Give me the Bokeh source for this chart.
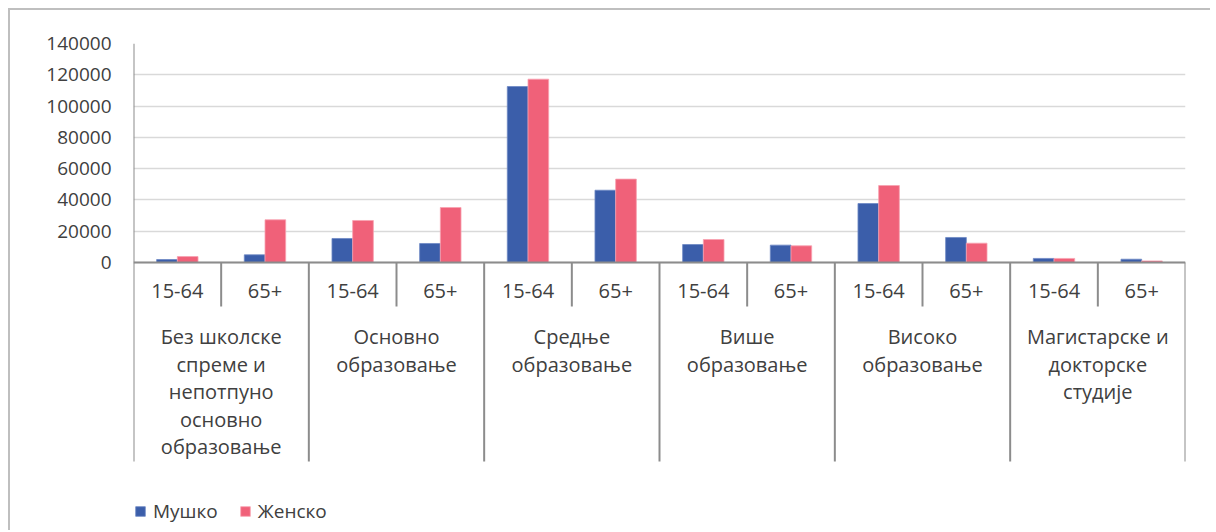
from bokeh.plotting import figure
from bokeh.models import (ColumnDataSource, FixedTicker, BasicTickFormatter,
                          Legend, LegendItem, Range1d)
from bokeh.core.properties import value
from bokeh.embed import file_html
from bokeh.resources import INLINE

# ---------------- data ----------------
groups = [
    "Без школске\nспреме и\nнепотпуно\nосновно\nобразовање",
    "Основно\nобразовање",
    "Средње\nобразовање",
    "Више\nобразовање",
    "Високо\nобразовање",
    "Магистарске и\nдокторске\nстудије",
]
ages = ["15-64", "65+"]
series_names = ["Мушко", "Женско"]
male = [1900, 4900, 15350, 12150, 112500, 46200, 11500, 11100, 37700, 16000, 2600, 2100]
female = [3800, 27300, 26850, 35150, 117200, 53300, 14700, 10650, 49200, 12350, 2600, 1000]
y_ticks = [0, 20000, 40000, 60000, 80000, 100000, 120000, 140000]

# ---------------- style / layout ----------------
FONT = "Open Sans"
TXT = "#404040"
BLUE = "#3B5EAA"
PINK = "#F06179"
AX = "#8c8c8c"
GRID = "#d9d9d9"

W, H = 1202, 522
ML, MR, MT, MB = 123, 27, 33, 2
FRAME_H = H - MT - MB
TOP_PX = 43          # page y of top tick
ZERO_PX = 262        # page y of zero line
YMAX = y_ticks[-1]
PX = YMAX / (ZERO_PX - TOP_PX)
Y0 = YMAX - FRAME_H * PX


def ypage(py):
    return YMAX - (py - TOP_PX) * PX


n_cat = len(groups) * len(ages)
p = figure(width=W, height=H, output_backend="svg", toolbar_location=None,
           x_range=Range1d(0, n_cat), y_range=Range1d(Y0, YMAX),
           x_axis_location=None,
           min_border_left=ML, min_border_right=MR, min_border_top=MT,
           min_border_bottom=MB,
           styles={"border-left": "2px solid #bfbfbf",
                   "border-top": "2px solid #bfbfbf",
                   "margin-left": "8px", "margin-top": "8px"})
p.outline_line_color = None
p.xgrid.visible = False
p.ygrid.ticker = FixedTicker(ticks=y_ticks)
p.ygrid.grid_line_color = GRID
p.ygrid.grid_line_width = 1.5

yax = p.yaxis[0]
yax.ticker = FixedTicker(ticks=y_ticks)
yax.formatter = BasicTickFormatter(use_scientific=False)
yax.axis_line_color = None
yax.major_tick_line_color = None
yax.minor_tick_line_color = None
yax.major_tick_out = 0
yax.major_tick_in = 0
yax.major_label_standoff = 22
yax.major_label_text_font = FONT
yax.major_label_text_font_size = "19px"
yax.major_label_text_color = TXT

# bars
xc = [i + 0.5 for i in range(n_cat)]
bw = 0.236
src = ColumnDataSource(dict(xm=[x - bw / 2 for x in xc], xf=[x + bw / 2 for x in xc],
                            male=male, female=female))
rm = p.vbar(x="xm", top="male", bottom=0, width=bw, source=src,
            fill_color=BLUE, line_color="#6d88c4", line_width=0.8)
rf = p.vbar(x="xf", top="female", bottom=0, width=bw, source=src,
            fill_color=PINK, line_color="#f7a2b1", line_width=0.8)

# axis structure: zero line, separators
p.segment(x0=[0], x1=[n_cat], y0=[0], y1=[0], line_color=AX, line_width=2)
ybot_group = ypage(461)
ybot_sub = ypage(306)
gb = [2 * g for g in range(len(groups) + 1)]
p.segment(x0=[0], x1=[0], y0=[YMAX], y1=[0], line_color=AX, line_width=2)
p.segment(x0=gb, x1=gb, y0=[0] * len(gb), y1=[ybot_group] * len(gb),
          line_color=AX, line_width=2)
sb = [2 * g + 1 for g in range(len(groups))]
p.segment(x0=sb, x1=sb, y0=[0] * len(sb), y1=[ybot_sub] * len(sb),
          line_color=AX, line_width=2)

# sub labels
p.text(x=xc, y=[ypage(290.5)] * n_cat, text=[ages[i % 2] for i in range(n_cat)],
       text_font=value(FONT), text_font_size="20px", text_color=TXT,
       text_align="center", text_baseline="alphabetic")

# group labels (line by line)
gx, gy, gt = [], [], []
for g, lab in enumerate(groups):
    for k, line in enumerate(lab.split("\n")):
        gx.append(2 * g + 1)
        gy.append(ypage(336.0 + 27.5 * k))
        gt.append(line)
p.text(x=gx, y=gy, text=gt, text_font=value(FONT), text_font_size="20px",
       text_color=TXT, text_align="center", text_baseline="alphabetic")

legend = Legend(items=[LegendItem(label=series_names[0], renderers=[rm]),
                       LegendItem(label=series_names[1], renderers=[rf])],
                location=(1, 6), orientation="horizontal",
                glyph_width=12, glyph_height=12, label_standoff=7, spacing=21,
                padding=0, margin=0, border_line_color=None,
                background_fill_alpha=0, label_text_font=FONT,
                label_text_font_size="19px", label_text_color=TXT)
p.add_layout(legend, "center")

open("out.html", "w").write(file_html(p, INLINE))
